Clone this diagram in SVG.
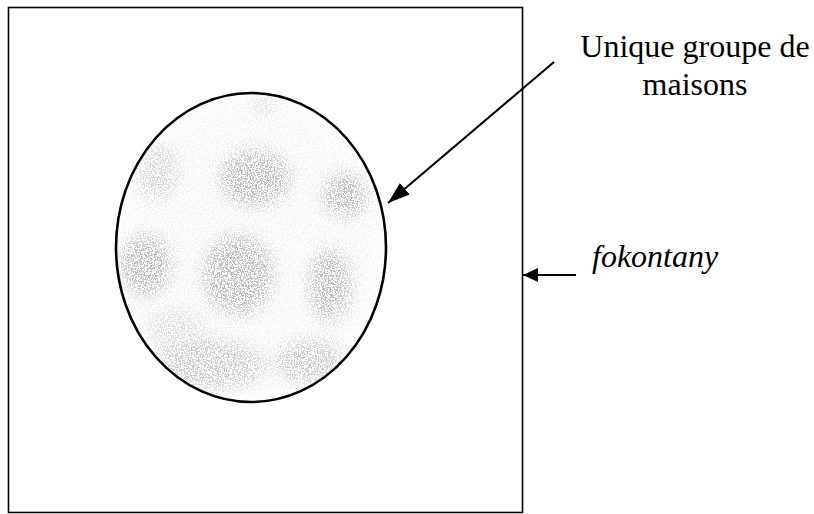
<svg xmlns="http://www.w3.org/2000/svg" width="814" height="514" viewBox="0 0 814 514">
<style>
.frame{fill:none;stroke:#000;stroke-width:1.6}
.outline{fill:none;stroke:#000;stroke-width:2.6}
.conn{fill:none;stroke:#000;stroke-width:2}
.lbl{font-size:32px;fill:#000}
.it{font-style:italic}
</style>
<defs>
<marker id="ahLong" viewBox="0 0 10 10" refX="10" refY="5" markerWidth="11" markerHeight="7.5" markerUnits="strokeWidth" orient="auto" preserveAspectRatio="none">
<path d="M0,0 L10,5 L0,10 z" fill="#000"/>
</marker>
<marker id="ahShort" viewBox="0 0 10 10" refX="10" refY="5" markerWidth="7.5" markerHeight="7" markerUnits="strokeWidth" orient="auto" preserveAspectRatio="none">
<path d="M0,0 L10,5 L0,10 z" fill="#000"/>
</marker>
<clipPath id="clipE"><ellipse cx="251" cy="247.5" rx="135" ry="154.5"/></clipPath>
<filter id="speckle" x="0" y="0" width="100%" height="100%">
<feTurbulence type="fractalNoise" baseFrequency="0.7" numOctaves="2" seed="3" result="n"/>
<feColorMatrix in="n" type="matrix" values="0 0 0 0 0.5  0 0 0 0 0.5  0 0 0 0 0.5  -9 0 0 0 4.9"/>
</filter>
<filter id="soft"><feGaussianBlur stdDeviation="8"/></filter>
<mask id="blobs" maskUnits="userSpaceOnUse" x="0" y="0" width="814" height="514">
<g filter="url(#soft)" fill="#fff">
<ellipse cx="157" cy="172" rx="22" ry="28" fill-opacity="0.55"/>
<ellipse cx="255" cy="178" rx="35" ry="28"/>
<ellipse cx="265" cy="102" rx="14" ry="10" fill-opacity="0.5"/>
<ellipse cx="345" cy="195" rx="22" ry="22"/>
<ellipse cx="145" cy="265" rx="26" ry="30"/>
<ellipse cx="238" cy="275" rx="35" ry="40"/>
<ellipse cx="330" cy="285" rx="20" ry="36"/>
<ellipse cx="210" cy="365" rx="55" ry="25" fill-opacity="0.75"/>
<ellipse cx="310" cy="362" rx="35" ry="22" fill-opacity="0.75"/>
<ellipse cx="175" cy="330" rx="30" ry="20" fill-opacity="0.4"/>
<ellipse cx="251" cy="247" rx="130" ry="150" fill-opacity="0.15"/>
</g>
</mask>
</defs>
<g id="fokontany-area">
<rect class="frame" x="8.5" y="7.5" width="514" height="505"/>
</g>
<g id="groupe-maisons">
<g clip-path="url(#clipE)">
<rect x="110" y="85" width="285" height="325" filter="url(#speckle)" mask="url(#blobs)"/>
</g>
<ellipse class="outline" cx="251" cy="247.5" rx="135" ry="154.5"/>
</g>
<g id="label-groupe">
<text class="lbl" font-family="Liberation Serif, Times New Roman, serif" text-anchor="middle" x="695" y="57">Unique groupe de</text>
<text class="lbl" font-family="Liberation Serif, Times New Roman, serif" text-anchor="middle" x="695" y="95">maisons</text>
</g>
<g id="label-fokontany">
<text class="lbl it" font-family="Liberation Serif, Times New Roman, serif" x="592" y="267">fokontany</text>
</g>
<g id="connectors">
<line class="conn" x1="554" y1="62" x2="388" y2="203" marker-end="url(#ahLong)"/>
<line class="conn" x1="576" y1="275" x2="523" y2="275" marker-end="url(#ahShort)"/>
</g>
</svg>
